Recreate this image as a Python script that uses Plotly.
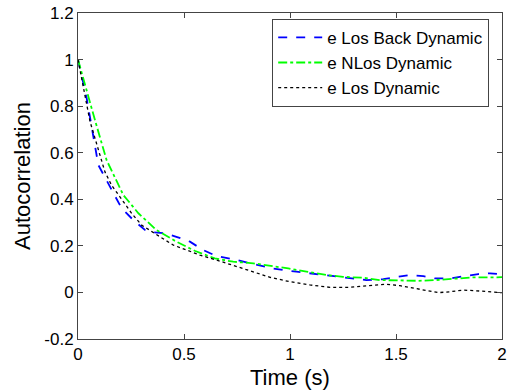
import plotly.graph_objects as go

t_back = [0, 0.041, 0.096, 0.167, 0.206, 0.261, 0.316, 0.355, 0.41, 0.464, 0.528, 0.59, 0.654, 0.749, 0.842, 0.92, 1.03, 1.125, 1.236, 1.36, 1.44, 1.50, 1.566, 1.629, 1.684, 1.755, 1.817, 1.888, 1.943, 2.0]
v_back = [1.0, 0.833, 0.547, 0.425, 0.361, 0.311, 0.268, 0.258, 0.254, 0.239, 0.218, 0.182, 0.156, 0.139, 0.118, 0.103, 0.089, 0.079, 0.065, 0.053, 0.057, 0.067, 0.075, 0.070, 0.060, 0.060, 0.070, 0.079, 0.082, 0.078]

t_nlos = [0, 0.035, 0.08, 0.135, 0.214, 0.285, 0.37, 0.464, 0.55, 0.645, 0.732, 0.827, 0.906, 0.992, 1.078, 1.17, 1.25, 1.345, 1.425, 1.519, 1.606, 1.684, 1.778, 1.873, 1.975, 2.0]
v_nlos = [1.0, 0.883, 0.74, 0.568, 0.418, 0.34, 0.268, 0.218, 0.179, 0.146, 0.132, 0.125, 0.115, 0.103, 0.089, 0.075, 0.067, 0.063, 0.053, 0.050, 0.050, 0.053, 0.060, 0.065, 0.065, 0.066]

t_los = [0, 0.057, 0.127, 0.158, 0.253, 0.30, 0.387, 0.45, 0.513, 0.575, 0.654, 0.732, 0.81, 0.906, 1.0, 1.094, 1.189, 1.283, 1.36, 1.455, 1.519, 1.582, 1.645, 1.70, 1.755, 1.817, 1.88, 1.958, 2.0]
v_los = [1.0, 0.733, 0.518, 0.461, 0.34, 0.289, 0.239, 0.203, 0.182, 0.16, 0.139, 0.116, 0.093, 0.065, 0.046, 0.032, 0.022, 0.022, 0.028, 0.035, 0.029, 0.018, 0.006, -0.001, 0.003, 0.010, 0.007, 0.003, -0.001]

x_ticks = [0, 0.5, 1, 1.5, 2]
x_tick_text = ["0", "0.5", "1", "1.5", "2"]
y_ticks = [-0.2, 0, 0.2, 0.4, 0.6, 0.8, 1.0, 1.2]
y_tick_text = ["-0.2", "0", "0.2", "0.4", "0.6", "0.8", "1", "1.2"]

FONT = "Liberation Sans, Arial, Helvetica, sans-serif"

fig = go.Figure()
fig.add_trace(go.Scatter(x=t_back, y=v_back, mode="lines", name="e Los Back Dynamic",
                         line=dict(color="#0000ff", width=1.8, dash="dash")))
fig.add_trace(go.Scatter(x=t_nlos, y=v_nlos, mode="lines", name="e NLos Dynamic",
                         line=dict(color="#00ff00", width=1.8, dash="dashdot")))
fig.add_trace(go.Scatter(x=t_los, y=v_los, mode="lines", name="e Los Dynamic",
                         line=dict(color="#000000", width=1.3, dash="dot")))

axis_common = dict(showline=True, linecolor="#444444", linewidth=1, mirror="ticks",
                   ticks="inside", ticklen=5, tickcolor="#444444", showgrid=False,
                   zeroline=False, automargin=False,
                   tickfont=dict(family=FONT, size=17, color="#000"))

fig.update_xaxes(range=[0, 2], tickvals=x_ticks, ticktext=x_tick_text, **axis_common)
fig.update_yaxes(range=[-0.2, 1.2], tickvals=y_ticks, ticktext=y_tick_text, **axis_common)

fig.add_annotation(text="Time (s)", xref="paper", yref="paper", x=0.5, y=-0.117,
                   xanchor="center", yanchor="middle", showarrow=False,
                   font=dict(family=FONT, size=22, color="#000"))
fig.add_annotation(text="Autocorrelation", xref="paper", yref="paper", x=-0.132, y=0.5,
                   xanchor="center", yanchor="middle", textangle=-90, showarrow=False,
                   font=dict(family=FONT, size=22, color="#000"))

fig.update_layout(
    width=510, height=391,
    margin=dict(l=78, r=8, t=13, b=52),
    paper_bgcolor="white", plot_bgcolor="white",
    showlegend=True,
    legend=dict(x=0.458, y=0.982, xanchor="left", yanchor="top",
                bgcolor="white", bordercolor="#444444", borderwidth=1,
                font=dict(family=FONT, size=17, color="#000"),
                tracegroupgap=0, itemwidth=44),
)

# remove the browser's default 8px body margin so the figure fills the window exactly
fig.write_html("out.html", config={"displayModeBar": False},
               post_script="document.body.style.margin='0px';")
